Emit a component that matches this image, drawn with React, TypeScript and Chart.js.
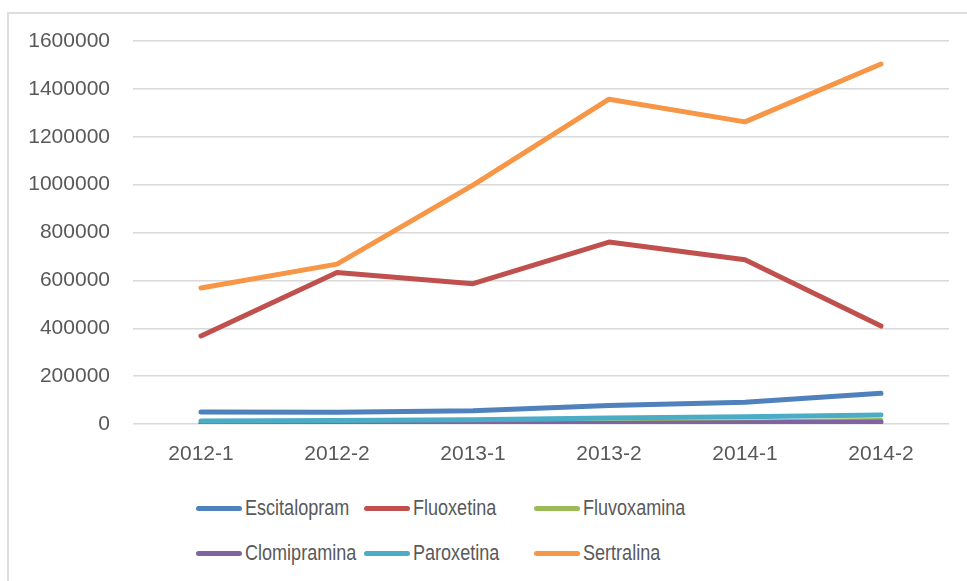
import React, { useEffect, useRef } from "react";
import { Chart, registerables } from "chart.js";

Chart.register(...registerables);

const categories = ["2012-1", "2012-2", "2013-1", "2013-2", "2014-1", "2014-2"];
const seriesNames = ["Escitalopram", "Fluoxetina", "Fluvoxamina", "Clomipramina", "Paroxetina", "Sertralina"];
const escitalopram = [50000, 49000, 55000, 77000, 91000, 128000];
const fluoxetina = [368000, 633000, 586000, 760000, 686000, 409000];
const fluvoxamina = [2000, 2000, 3000, 5000, 8000, 15000];
const clomipramina = [5000, 3000, 0, 2000, 5000, 8000];
const paroxetina = [13000, 15000, 18000, 25000, 30000, 38000];
const sertralina = [568000, 668000, 998000, 1357000, 1262000, 1504000];
const seriesColors = ["#4F81BD", "#C0504D", "#9BBB59", "#8064A2", "#4BACC6", "#F79646"];
const yMin = 0;
const yMax = 1600000;
const yStep = 200000;

const seriesValues = [escitalopram, fluoxetina, fluvoxamina, clomipramina, paroxetina, sertralina];

const legendColumns = [196, 364, 534];
const legendRows = [508, 553];

export default function App() {
  const canvasRef = useRef<HTMLCanvasElement | null>(null);

  useEffect(() => {
    const canvas = canvasRef.current;
    if (!canvas) return;
    const tickFont = { family: "'Liberation Sans', Arial, sans-serif", size: 21 };
    const chart = new Chart(canvas, {
      type: "line",
      data: {
        labels: categories,
        datasets: seriesNames.map((name, i) => ({
          label: name,
          data: seriesValues[i],
          borderColor: seriesColors[i],
          backgroundColor: seriesColors[i],
          borderWidth: 5,
          borderCapStyle: "round",
          borderJoinStyle: "round",
          pointRadius: 0,
          tension: 0,
          order: seriesNames.length - i,
        })),
      },
      options: {
        animation: false,
        responsive: false,
        devicePixelRatio: 1,
        layout: { padding: { top: 41, right: 18, left: 0, bottom: 0 } },
        plugins: {
          legend: { display: false },
          tooltip: { enabled: false },
        },
        scales: {
          x: {
            offset: true,
            grid: { display: false, drawTicks: false },
            border: { display: false },
            ticks: { font: tickFont, color: "#595959", padding: 18, maxRotation: 0 },
            afterFit: (scale: any) => {
              scale.height = 56;
            },
          },
          y: {
            min: yMin,
            max: yMax,
            grid: { color: "#d9d9d9", lineWidth: 1.5, drawTicks: false },
            border: { display: false },
            ticks: {
              stepSize: yStep,
              font: tickFont,
              color: "#595959",
              padding: 23,
              callback: (v: any) => String(v),
            },
            afterFit: (scale: any) => {
              scale.width = 133;
            },
          },
        },
      },
    });
    return () => chart.destroy();
  }, []);

  return (
    <div style={{ position: "fixed", left: 0, top: 0, width: 967, height: 581, overflow: "hidden", background: "#fff" }}>
      <div
        style={{
          position: "absolute",
          left: 7,
          top: 12,
          width: 980,
          height: 600,
          border: "2px solid #dedede",
          boxSizing: "border-box",
        }}
      />
      <canvas ref={canvasRef} width={967} height={480} style={{ position: "absolute", left: 0, top: 0, width: 967, height: 480 }} />
      {seriesNames.map((name, i) => {
        const x = legendColumns[i % 3];
        const y = legendRows[Math.floor(i / 3)];
        return (
          <React.Fragment key={name}>
            <div
              style={{
                position: "absolute",
                left: x,
                top: y - 2.5,
                width: 46,
                height: 5,
                borderRadius: 3,
                background: seriesColors[i],
              }}
            />
            <div
              style={{
                position: "absolute",
                left: x + 49,
                top: y - 15,
                height: 30,
                display: "flex",
                alignItems: "center",
                whiteSpace: "nowrap",
                fontFamily: "'Liberation Sans', Arial, sans-serif",
                fontSize: 22,
                color: "#595959",
                transform: "scaleX(0.82)",
                transformOrigin: "left center",
              }}
            >
              {name}
            </div>
          </React.Fragment>
        );
      })}
    </div>
  );
}
